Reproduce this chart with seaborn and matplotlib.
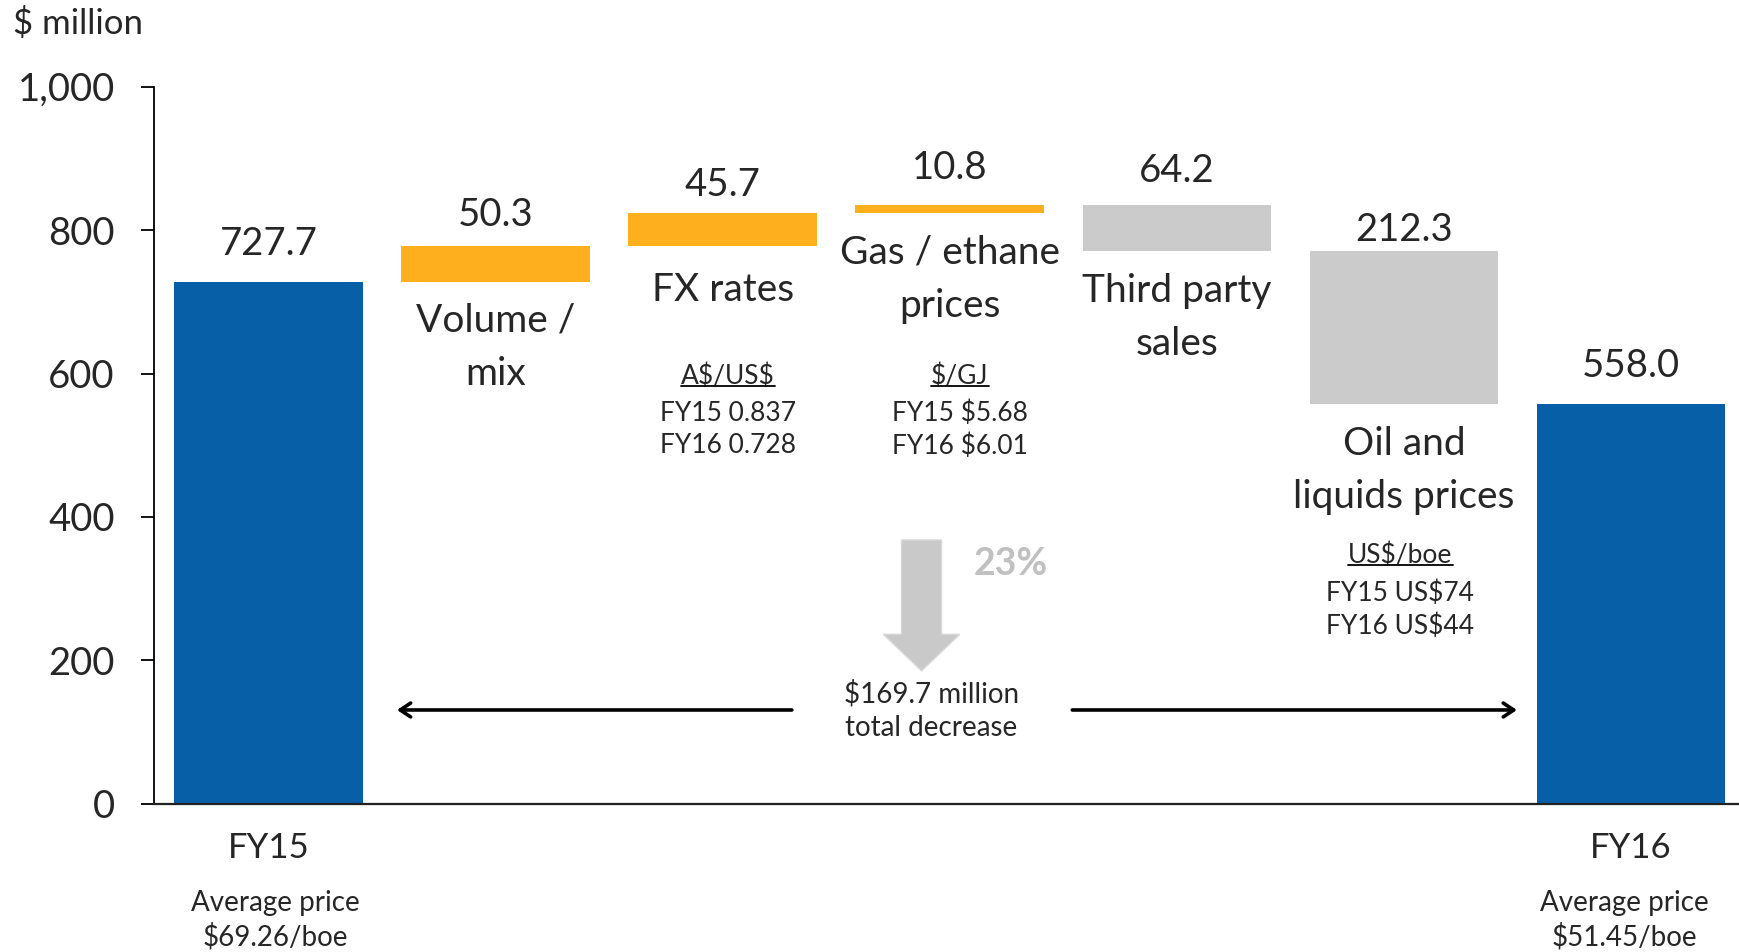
# waterfall of revenue change FY15 -> FY16
import pandas as pd
import seaborn as sns
import matplotlib.pyplot as plt
from matplotlib.patches import FancyArrow
from matplotlib.lines import Line2D
from matplotlib.ticker import FuncFormatter

# data ($ million)
steps = ["FY15", "Volume / mix", "FX rates", "Gas / ethane prices",
         "Third party sales", "Oil and liquids prices", "FY16"]
changes = [727.7, 50.3, 45.7, 10.8, -64.2, -212.3, 558.0]
step_kind = ["total", "up", "up", "up", "down", "down", "total"]
value_labels = ["727.7", "50.3", "45.7", "10.8", "64.2", "212.3", "558.0"]
step_text = ["", "Volume /\nmix", "FX rates", "Gas / ethane\nprices",
             "Third party\nsales", "Oil and\nliquids prices", ""]
tick_labels = ["FY15", "", "", "", "", "", "FY16"]
avg_price = ["Average price\n$69.26/boe", "Average price\n$51.45/boe"]
notes = {2: ("A$/US$", "FY15 0.837\nFY16 0.728"),
         3: ("$/GJ", "FY15 $5.68\nFY16 $6.01"),
         5: ("US$/boe", "FY15 US$74\nFY16 US$44")}
total_change = "$169.7 million\ntotal decrease"
pct_change = "23%"

# floating bar bottoms / heights
bottoms, heights = [], []
level = 0
for kind, c in zip(step_kind, changes):
    if kind == "total":
        bottoms.append(0)
        heights.append(c)
        level = c
    elif c >= 0:
        bottoms.append(level)
        heights.append(c)
        level += c
    else:
        level += c
        bottoms.append(level)
        heights.append(-c)
df = pd.DataFrame({"step": steps, "height": heights})

colors = {"total": "#075FA8", "up": "#FEAF1D", "down": "#CBCBCB"}

sns.set_style("white")
plt.rcParams["font.family"] = ["Lato", "DejaVu Sans"]

fig = plt.figure(figsize=(17.39, 9.52), dpi=100)
ax = fig.add_axes([0.0887, 0.1555, 0.9113, 0.7536])

sns.barplot(data=df, x="step", y="height", order=steps, bottom=bottoms,
            width=0.83, errorbar=None, color=colors["total"], linewidth=0, ax=ax)
for patch, kind in zip(ax.patches, step_kind):
    patch.set_facecolor(colors[kind])

ax.set_xlim(-0.503, 6.476)
ax.set_ylim(0, 1000)
ax.set_xlabel("")
ax.set_ylabel("")

# axes look
for side in ["top", "right"]:
    ax.spines[side].set_visible(False)
ax.spines["left"].set_color("black")
ax.spines["left"].set_linewidth(1.3)
ax.spines["bottom"].set_color("#222222")
ax.spines["bottom"].set_linewidth(1.6)
ax.set_yticks([0, 200, 400, 600, 800, 1000])
ax.yaxis.set_major_formatter(FuncFormatter(lambda v, p: f"{v:,.0f}"))
ax.tick_params(axis="y", left=True, length=9.5, width=1.3, pad=19,
               labelsize=27.5, color="black")
ax.set_xticks(range(len(steps)))
ax.set_xticklabels(tick_labels)
ax.tick_params(axis="x", length=0, pad=20, labelsize=25)

fig.text(0.0075, 0.975, "$ million", fontsize=25, va="center", ha="left",
         parse_math=False)

# value labels above each bar
label_offsets = [27, 22, 20, 27, 25, 15, 27]
for i, (lab, off) in enumerate(zip(value_labels, label_offsets)):
    top = bottoms[i] + heights[i]
    ax.annotate(lab, xy=(i, top), xytext=(0, off), textcoords="offset points",
                ha="center", va="center", fontsize=27.5)

# category names near the bars
text_y = {1: 636, 2: 717, 3: 732, 4: 678, 5: 465}
for i, y in text_y.items():
    ax.text(i, y, step_text[i], ha="center", va="center", fontsize=28,
            linespacing=1.6)

# price notes, header underlined
note_pos = {2: (2.025, 596, 522), 3: (3.045, 596, 522), 5: (4.985, 346, 271)}
headers = []
for i, (head, body) in notes.items():
    x, yh, yb = note_pos[i]
    headers.append(ax.text(x, yh, head, ha="center", va="center", fontsize=19,
                           parse_math=False))
    ax.text(x, yb, body, ha="center", va="center", fontsize=19,
            linespacing=1.38, parse_math=False)

# average price under the totals
for x, txt in zip([0.03, 5.97], avg_price):
    ax.text(x, -0.162, txt, transform=ax.get_xaxis_transform(), ha="center",
            va="center", fontsize=20, linespacing=1.3, parse_math=False)

# big grey down arrow + change text
ax.add_patch(FancyArrow(2.876, 368, 0, -182.5, width=0.176, head_width=0.337,
                        head_length=51, length_includes_head=True,
                        facecolor="#C9C9C9", edgecolor="#D9D9D9", linewidth=1))
ax.text(3.27, 335, pct_change, ha="center", va="center", fontsize=27,
        fontweight="bold", color="#C0C0C0")
ax.text(2.92, 130, total_change, ha="center", va="center", fontsize=20,
        linespacing=1.38, parse_math=False)
arrow_kw = dict(arrowstyle="->, head_length=0.75, head_width=0.5", lw=2.6,
                color="black", shrinkA=0, shrinkB=0)
ax.annotate("", xy=(0.566, 131), xytext=(2.305, 131), arrowprops=arrow_kw)
ax.annotate("", xy=(5.498, 131), xytext=(3.54, 131), arrowprops=arrow_kw)

# underline the note headers
fig.canvas.draw()
inv = fig.transFigure.inverted()
for t in headers:
    bb = t.get_window_extent()
    (x0, y0), (x1, _) = inv.transform([(bb.x0, bb.y0 + 3), (bb.x1, bb.y0 + 3)])
    fig.add_artist(Line2D([x0, x1], [y0, y0], color="black", lw=1.3))

fig.savefig("out.png", dpi=100)
